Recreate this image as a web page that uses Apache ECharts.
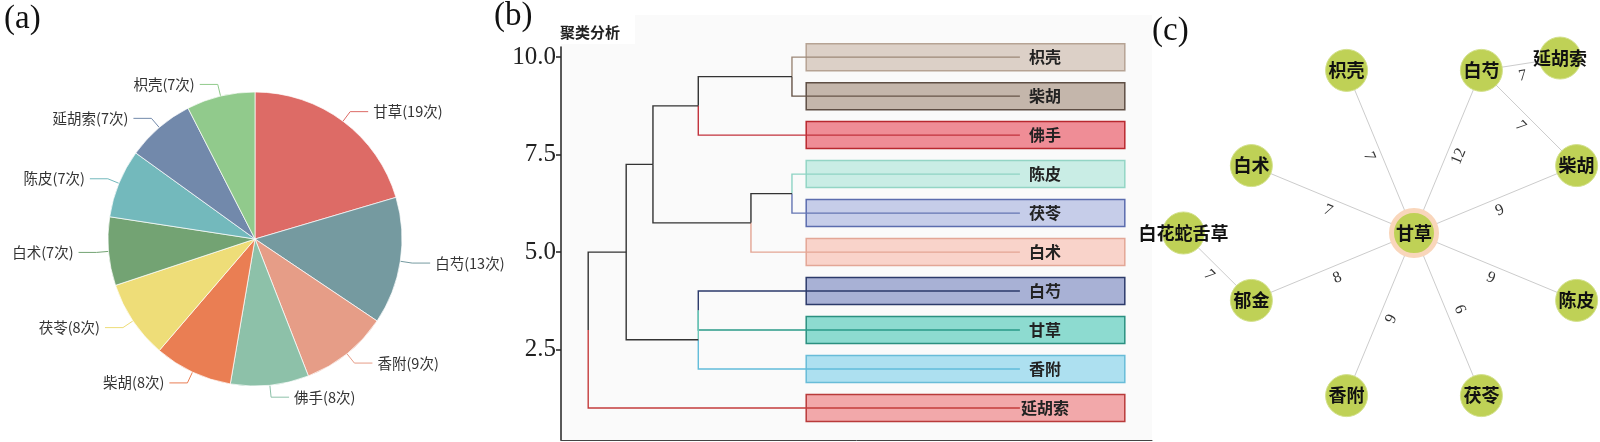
<!DOCTYPE html>
<html>
<head>
<meta charset="utf-8">
<script src="https://cdn.jsdelivr.net/npm/echarts@6/dist/echarts.min.js"></script>
<style>
html, body { margin: 0; padding: 0; background: #fff; }
#main { width: 1600px; height: 442px; }
</style>
</head>
<body>
<div id="main"></div>
<script>
// (a) 用药频次
const pieNames = ['甘草', '白芍', '香附', '佛手', '柴胡', '茯苓', '白术', '陈皮', '延胡索', '枳壳'];
const pieCounts = [19, 13, 9, 8, 8, 8, 7, 7, 7, 7];
const pieColors = ['#dd6b66', '#759aa0', '#e69d87', '#8dc1a9', '#ea7e53', '#eedd78', '#73a373', '#73b9bc', '#7289ab', '#91ca8c'];

// (b) 聚类分析 - leaves top to bottom
const leafNames = ['枳壳', '柴胡', '佛手', '陈皮', '茯苓', '白术', '白芍', '甘草', '香附', '延胡索'];
const leafPos = [10, 9, 8, 7, 6, 5, 4, 3, 2, 1];
// merges: index >= 10 means an earlier merge (10 + k)
const mergeLeft = [0, 10, 3, 12, 11, 6, 15, 14, 17];
const mergeRight = [1, 2, 4, 5, 13, 7, 8, 16, 9];
const mergeHeight = [5.28, 7.45, 5.28, 6.23, 8.5, 7.45, 7.45, 9.12, 10.0];
const leafLine = ['#9c8878', '#665448', '#c2323c', '#8ed3c4', '#6475b3', '#e3a594', '#2b3a6b', '#2a9a88', '#62bcda', '#c43c3c'];
const leafFill = ['#dcd0c7', '#c4b6ab', '#ef8d96', '#c9ede5', '#c6cde9', '#f9d3ca', '#a8b1d5', '#8ddbd0', '#ade0f0', '#f2a8aa'];
const leafBorder = ['#b6a394', '#5e4e44', '#b8282f', '#93d5c5', '#5b6cae', '#e3a696', '#2c3a6a', '#2b9080', '#68bcd8', '#b83a3a'];
const mergeLinkColor = ['#333', '#333', '#333', '#333', '#333', '#6cc6b8', '#333', '#333', '#333'];
const yTicks = [2.5, 5, 7.5, 10];

// (c) 关联网络
const netNodes = ['甘草', '枳壳', '白芍', '柴胡', '陈皮', '茯苓', '香附', '郁金', '白术', '延胡索', '白花蛇舌草'];
const netX = [0, -3.83, 3.83, 9.24, 9.24, 3.83, -3.83, -9.24, -9.24, 8.3, -13.1];
const netY = [0, 9.24, 9.24, 3.83, -3.83, -9.24, -9.24, -3.83, 3.83, 9.94, 0];
const edgeSource = ['甘草', '甘草', '白芍', '白芍', '甘草', '甘草', '甘草', '甘草', '甘草', '郁金', '甘草'];
const edgeTarget = ['枳壳', '白芍', '延胡索', '柴胡', '柴胡', '陈皮', '茯苓', '香附', '郁金', '白花蛇舌草', '白术'];
const edgeWeight = [7, 12, 7, 7, 9, 9, 6, 9, 8, 7, 7];

const CJK = '"Noto Sans CJK SC", sans-serif';
const SERIF = '"Liberation Serif", serif';

// dendrogram node positions
const nodeX = [], nodeY = [];
leafPos.forEach((p, i) => { nodeX[i] = 0; nodeY[i] = p; });
mergeHeight.forEach((h, k) => {
    nodeX[10 + k] = h;
    nodeY[10 + k] = (nodeY[mergeLeft[k]] + nodeY[mergeRight[k]]) / 2;
});
const links = [];
mergeHeight.forEach((h, k) => {
    const p = 10 + k;
    [mergeLeft[k], mergeRight[k]].forEach(c => {
        links.push({
            px: nodeX[p], py: nodeY[p], cx: nodeX[c], cy: nodeY[c],
            color: c < 10 ? leafLine[c] : mergeLinkColor[c - 10]
        });
    });
});

const BOX_FROM = 4.95, BOX_TO = -2.43;

const chart = echarts.init(document.getElementById('main'));
const option = {
    animation: false,
    backgroundColor: '#fff',
    graphic: [
        { type: 'rect', z: -10, shape: { x: 561, y: 15, width: 591, height: 425 }, style: { fill: '#fafafa' } },
        { type: 'rect', z: -9, shape: { x: 547, y: 15, width: 88, height: 29 }, style: { fill: '#fff' } },
        { type: 'text', z: 10, x: 560, y: 32, style: { text: '聚类分析', font: 'bold 15px ' + CJK, fill: '#222', verticalAlign: 'middle', textVerticalAlign: 'middle' } },
        { type: 'text', z: 10, x: 4, y: 3, style: { text: '(a)', font: '33px ' + SERIF, fill: '#111' } },
        { type: 'text', z: 10, x: 494, y: 0, style: { text: '(b)', font: '33px ' + SERIF, fill: '#111' } },
        { type: 'text', z: 10, x: 1152, y: 15, style: { text: '(c)', font: '33px ' + SERIF, fill: '#111' } }
    ],
    grid: [
        { left: 561, top: 47, width: 591, height: 393 },
        { left: 1150, top: 13, width: 440, height: 422.4 }
    ],
    xAxis: [
        {
            gridIndex: 0, type: 'value', inverse: true, min: -3.06, max: 10.63,
            axisLine: { show: true, onZero: false, lineStyle: { color: '#444', width: 1 } },
            axisTick: { show: false }, axisLabel: { show: false }, splitLine: { show: false }
        },
        { gridIndex: 1, type: 'value', min: -15, max: 10, show: false }
    ],
    yAxis: [
        {
            gridIndex: 0, type: 'value', min: 0.18, max: 10.26,
            axisLine: { show: true, onZero: false, lineStyle: { color: '#222', width: 1.5 } },
            axisTick: { show: true, length: 5, customValues: yTicks, lineStyle: { color: '#222', width: 1.5 } },
            axisLabel: {
                show: true, customValues: yTicks, margin: 5,
                formatter: v => Number(v).toFixed(1),
                fontFamily: SERIF, fontSize: 25, color: '#222'
            },
            splitLine: { show: false }
        },
        { gridIndex: 1, type: 'value', min: -11.5, max: 12.5, show: false }
    ],
    series: [
        {
            type: 'pie',
            center: [255, 239],
            radius: 147,
            startAngle: 90,
            clockwise: true,
            silent: true,
            data: pieNames.map((n, i) => ({ name: n, value: pieCounts[i], itemStyle: { color: pieColors[i] } })),
            itemStyle: { borderColor: 'rgba(255,255,255,0.7)', borderWidth: 1 },
            label: { formatter: '{b}({c}次)', color: '#333', fontSize: 14.5, fontFamily: CJK },
            labelLine: { length: 12, length2: 18, lineStyle: { width: 1 } }
        },
        {
            // leaf boxes
            type: 'custom', xAxisIndex: 0, yAxisIndex: 0, silent: true, z: 1,
            data: leafPos.map(p => [0, p]),
            renderItem: (params, api) => {
                const i = params.dataIndex;
                const y = api.coord([0, api.value(1)])[1];
                const xl = api.coord([BOX_FROM, api.value(1)])[0];
                const xr = api.coord([BOX_TO, api.value(1)])[0];
                return {
                    type: 'rect',
                    shape: { x: xl, y: y - 13.5, width: xr - xl, height: 27 },
                    style: { fill: leafFill[i], stroke: leafBorder[i], lineWidth: 1.5 }
                };
            }
        },
        {
            // dendrogram links
            type: 'custom', xAxisIndex: 0, yAxisIndex: 0, silent: true, z: 2,
            data: links.map(l => [l.px, l.py, l.cx, l.cy]),
            renderItem: (params, api) => {
                const l = links[params.dataIndex];
                const p0 = api.coord([l.px, l.py]);
                const p1 = api.coord([l.px, l.cy]);
                const p2 = api.coord([l.cx, l.cy]);
                return {
                    type: 'polyline',
                    shape: { points: [p0, p1, p2] },
                    style: { stroke: l.color, lineWidth: 1.4, fill: null }
                };
            }
        },
        {
            // leaf labels
            type: 'custom', xAxisIndex: 0, yAxisIndex: 0, silent: true, z: 3,
            data: leafPos.map(p => [0, p]),
            renderItem: (params, api) => {
                const pt = api.coord([0, api.value(1)]);
                return {
                    type: 'text',
                    x: pt[0] + 25, y: pt[1],
                    style: {
                        text: leafNames[params.dataIndex],
                        font: 'bold 16px ' + CJK, fill: '#222',
                        align: 'center', verticalAlign: 'middle',
                        textAlign: 'center', textVerticalAlign: 'middle'
                    }
                };
            }
        },
        {
            type: 'graph',
            coordinateSystem: 'cartesian2d',
            xAxisIndex: 1, yAxisIndex: 1,
            silent: true,
            symbol: 'circle',
            symbolSize: 42,
            data: netNodes.map((n, i) => {
                const d = { name: n, value: [netX[i], netY[i]] };
                if (i === 0) {
                    d.symbolSize = 45;
                    d.itemStyle = { color: '#bfd156', borderColor: '#f9d6bb', borderWidth: 5 };
                }
                return d;
            }),
            links: edgeSource.map((s, i) => {
                const l = { source: s, target: edgeTarget[i], value: edgeWeight[i] };
                if (edgeTarget[i] === '茯苓') {
                    l.label = { distance: 5, verticalAlign: 'bottom' };
                }
                return l;
            }),
            itemStyle: { color: '#bfd156', borderColor: '#d3e18c', borderWidth: 1 },
            label: { show: true, position: 'inside', fontSize: 18, fontWeight: 'bold', color: '#111', fontFamily: CJK },
            lineStyle: { color: '#cccccc', width: 1, opacity: 1, curveness: 0 },
            edgeLabel: {
                show: true, formatter: '{c}', fontFamily: SERIF, fontSize: 16, color: '#333',
                distance: -4, verticalAlign: 'top'
            }
        }
    ]
};
chart.setOption(option);
</script>
</body>
</html>
